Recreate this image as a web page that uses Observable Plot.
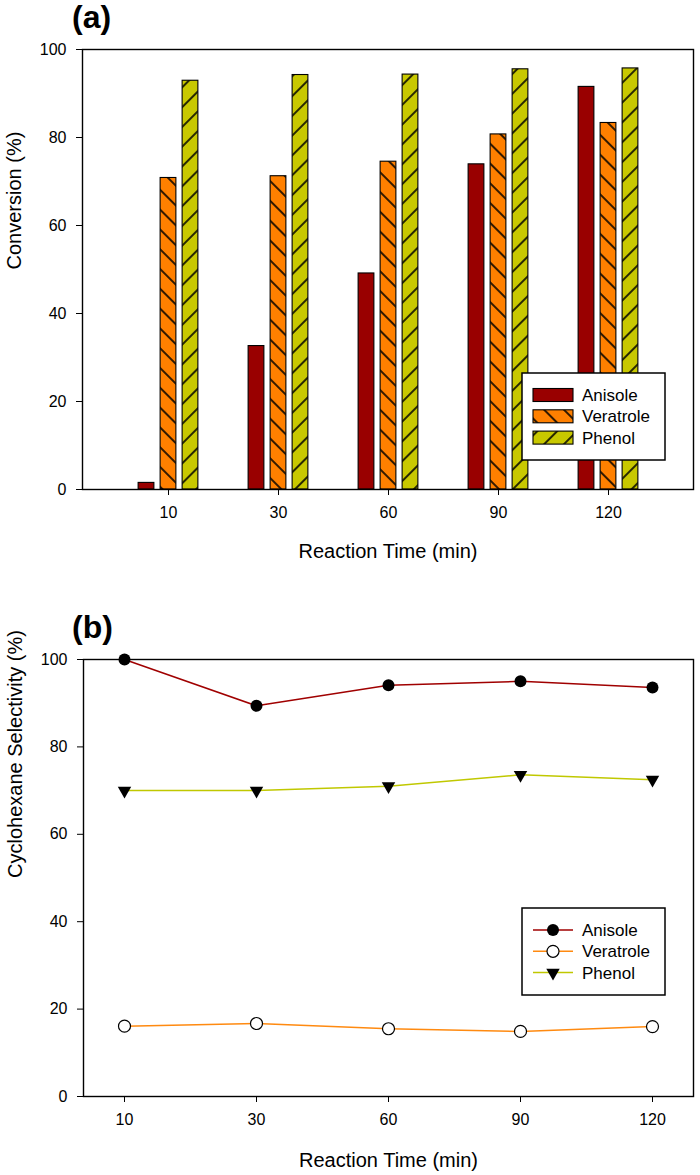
<!DOCTYPE html>
<html lang="en">
<head>
<meta charset="UTF-8">
<title>Conversion and cyclohexane selectivity</title>
<script src="https://cdn.jsdelivr.net/npm/d3@7"></script>
<script src="https://cdn.jsdelivr.net/npm/@observablehq/plot@0.6"></script>
<style>
  body {margin: 0; background: #fff; font-family: "Liberation Sans", Arial, sans-serif;}
  #page {position: relative; width: 700px; height: 1175px;}
  .panel {position: absolute; left: 0; width: 700px;}
  .tag {position: absolute; left: 72px; font: bold 32px/32px "Liberation Sans", Arial, sans-serif;}
  .legend {position: absolute;}
</style>
</head>
<body>
<svg width="0" height="0" style="position:absolute">
  <defs>
    <pattern id="hatchVeratrole" patternUnits="userSpaceOnUse" width="14" height="14" patternTransform="rotate(-45)">
      <rect width="14" height="14" fill="#ff8000"></rect>
      <line x1="7" y1="0" x2="7" y2="14" stroke="black" stroke-width="1.6"></line>
    </pattern>
    <pattern id="hatchPhenol" patternUnits="userSpaceOnUse" width="14" height="14" patternTransform="rotate(45)">
      <rect width="14" height="14" fill="#c8c800"></rect>
      <line x1="7" y1="0" x2="7" y2="14" stroke="black" stroke-width="1.6"></line>
    </pattern>
  </defs>
</svg>
<div id="page">
  <div class="panel" id="panelA" style="top:0"></div>
  <div class="panel" id="panelB" style="top:580px"></div>
  <div class="tag" style="top:1px">(a)</div>
  <div class="tag" style="top:611px">(b)</div>
  <div class="legend" id="legendA" style="left:521px;top:372px"></div>
  <div class="legend" id="legendB" style="left:521px;top:907px"></div>
</div>
<script>
const times = ["10", "30", "60", "90", "120"];
const series = ["Anisole", "Veratrole", "Phenol"];
const yTicks = [0, 20, 40, 60, 80, 100];

// (a) conversion, %
const anisoleConv = [1.5, 32.6, 49.1, 73.9, 91.5];
const veratroleConv = [70.8, 71.2, 74.5, 80.7, 83.3];
const phenolConv = [92.9, 94.2, 94.3, 95.5, 95.7];

// (b) cyclohexane selectivity, %
const anisoleSel = [100, 89.4, 94.1, 95.0, 93.6];
const veratroleSel = [16.1, 16.7, 15.5, 14.9, 16.0];
const phenolSel = [70.0, 70.0, 71.0, 73.6, 72.5];

const fills = ["#990000", "url(#hatchVeratrole)", "url(#hatchPhenol)"];
const lineColors = ["#a00000", "#ff8a10", "#c0c800"];
const font = '"Liberation Sans", Arial, sans-serif';

const rows = (values) => series.map((s, k) =>
  times.map((t, i) => ({time: t, series: s, value: values[k][i]})));

const convRows = rows([anisoleConv, veratroleConv, phenolConv]);
const selRows = rows([anisoleSel, veratroleSel, phenolSel]);

// bar geometry inside each band
const W = 700, mlA = 82, mrA = 7;
const pInner = 0.4, pOuter = 0.467;
const step = (W - mlA - mrA) / (times.length - pInner + 2 * pOuter);
const bw = step * (1 - pInner);
const barW = 16, barOff = [-22, 0, 22];

const axes = (label, xOffset) => [
  Plot.axisY(yTicks, {tickSize: 6, tickPadding: 10, fontSize: 16, label: null}),
  Plot.axisX({tickSize: 6, tickPadding: 11, fontSize: 16, label: null}),
  Plot.text([label], {frameAnchor: "left", rotate: -90, dx: -76, lineAnchor: "top", fontSize: 20, text: d => d}),
  Plot.text(["Reaction Time (min)"], {frameAnchor: "bottom", dy: xOffset, lineAnchor: "bottom", fontSize: 20, text: d => d})
];

const chartA = Plot.plot({
  width: W,
  height: 580,
  marginLeft: mlA,
  marginRight: mrA,
  marginTop: 49,
  marginBottom: 91,
  style: {fontFamily: font, color: "black", background: "transparent"},
  x: {type: "band", domain: times, paddingInner: pInner, paddingOuter: pOuter},
  y: {domain: [0, 100]},
  marks: [
    ...series.map((s, k) => Plot.barY(convRows[k], {
      x: "time", y: "value",
      fill: fills[k], stroke: "black", strokeWidth: 1.1,
      insetLeft: (bw - barW) / 2, insetRight: (bw - barW) / 2, dx: barOff[k]
    })),
    Plot.frame({stroke: "black", strokeWidth: 1.4}),
    ...axes("Conversion (%)", 68)
  ]
});
document.getElementById("panelA").append(chartA);

const chartB = Plot.plot({
  width: W,
  height: 595,
  marginLeft: 83,
  marginRight: 7,
  marginTop: 79,
  marginBottom: 79,
  style: {fontFamily: font, color: "black", background: "transparent"},
  x: {type: "point", domain: times, padding: 0.3},
  y: {domain: [0, 100]},
  marks: [
    Plot.frame({stroke: "black", strokeWidth: 1.4}),
    ...series.map((s, k) => Plot.line(selRows[k], {x: "time", y: "value", stroke: lineColors[k], strokeWidth: 1.5})),
    Plot.dot(selRows[0], {x: "time", y: "value", r: 6, fill: "black"}),
    Plot.dot(selRows[1], {x: "time", y: "value", r: 6, fill: "white", stroke: "black", strokeWidth: 1.2}),
    Plot.dot(selRows[2], {x: "time", y: "value", symbol: "triangle", rotate: 180, r: 5, fill: "black"}),
    ...axes("Cyclohexane Selectivity (%)", 70)
  ]
});
document.getElementById("panelB").append(chartB);

// legends drawn inside the plot frames
function legend(id, swatch) {
  const w = 143, h = 87;
  const svg = d3.select(id).append("svg").attr("width", w + 2).attr("height", h + 2);
  svg.append("rect").attr("x", 1).attr("y", 1).attr("width", w).attr("height", h)
    .attr("fill", "white").attr("stroke", "black").attr("stroke-width", 1.5);
  series.forEach((s, k) => {
    const g = svg.append("g").attr("transform", `translate(0,${23 + k * 21.3})`);
    swatch(g, k);
    g.append("text").attr("x", 61).attr("dy", "0.35em").attr("font-family", font)
      .attr("font-size", 17).text(s);
  });
}

legend("#legendA", (g, k) => {
  g.append("rect").attr("x", 12).attr("y", -6.5).attr("width", 40).attr("height", 13)
    .attr("fill", fills[k]).attr("stroke", "black").attr("stroke-width", 1.1);
});

legend("#legendB", (g, k) => {
  g.append("line").attr("x1", 12).attr("x2", 52).attr("stroke", lineColors[k]).attr("stroke-width", 1.5);
  if (k === 0) g.append("circle").attr("cx", 32).attr("r", 6).attr("fill", "black");
  if (k === 1) g.append("circle").attr("cx", 32).attr("r", 6).attr("fill", "white").attr("stroke", "black").attr("stroke-width", 1.2);
  if (k === 2) g.append("path").attr("transform", "translate(32,0) rotate(180)")
    .attr("d", d3.symbol(d3.symbolTriangle, Math.PI * 25)()).attr("fill", "black");
});
</script>
</body>
</html>
